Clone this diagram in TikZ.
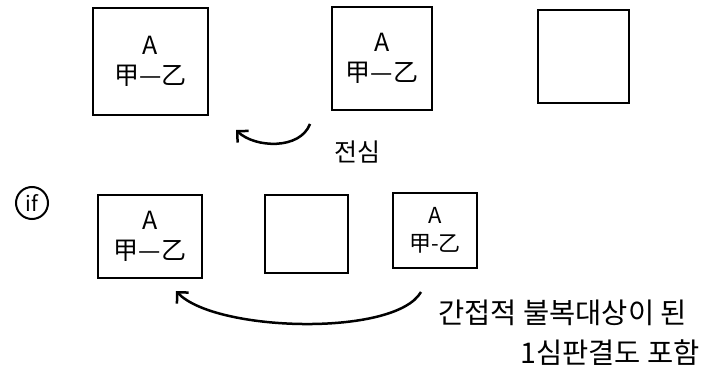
\documentclass[tikz,border=0pt]{standalone}
\usepackage{fontspec}
\setmainfont{Noto Sans CJK KR}
\usetikzlibrary{arrows.meta}
\tikzset{
  cell/.style={draw, line width=2.5pt, align=center, inner sep=0pt, font=\fontsize{25}{30}\selectfont},
  smallcell/.style={cell, font=\fontsize{22}{28}\selectfont},
  note/.style={font=\fontsize{28.5}{30}\selectfont, inner sep=0pt},
  curl/.style={line width=2.5pt, -{Straight Barb[length=8pt, width=16pt, line width=2.5pt]}}
}
\begin{document}
\begin{tikzpicture}[x=1pt, y=-1pt]
    \useasboundingbox (0,0) rectangle (720,387);
    % Draw the upper row
    \node[cell, minimum width=115pt, minimum height=107pt] (up1) at (150.5,61.5) {A\\甲—乙};
    \node[cell, minimum width=100pt, minimum height=103pt] (up2) at (382,58.5) {A\\甲—乙};
    \node[cell, minimum width=91pt, minimum height=93pt] (up3) at (583.5,56.5) {};
    % Draw the upper arrow
    \coordinate (upfrom) at (310,124);
    \coordinate (upto) at (236,130);
    \draw[curl] (upfrom) .. controls (300,150) and (255,148) .. (upto);
    \node[note, font=\fontsize{25}{27}\selectfont] (prior) at (357,152) {전심};
    % Draw the if mark
    \node[draw, circle, line width=2pt, minimum size=32pt, inner sep=0pt, font=\fontsize{21}{21}\selectfont] (ifmark) at (32,203) {if};
    % Draw the lower row
    \node[cell, minimum width=104pt, minimum height=83pt] (lo1) at (150,236.5) {A\\甲—乙};
    \node[cell, minimum width=83pt, minimum height=78pt] (lo2) at (306.5,234) {};
    \node[smallcell, minimum width=84pt, minimum height=75pt] (lo3) at (435,230.5) {A\\甲-乙};
    % Draw the lower arrow
    \coordinate (lofrom) at (421,292);
    \coordinate (loto) at (176,291);
    \draw[curl] (lofrom) .. controls (395,337) and (215,332) .. (loto);
    % Draw the notes
    \node[note, anchor=west] (line1) at (438,313) {간접적 불복대상이 된};
    \node[note, anchor=west] (line2) at (520,353) {1심판결도 포함};
\end{tikzpicture}
\end{document}
